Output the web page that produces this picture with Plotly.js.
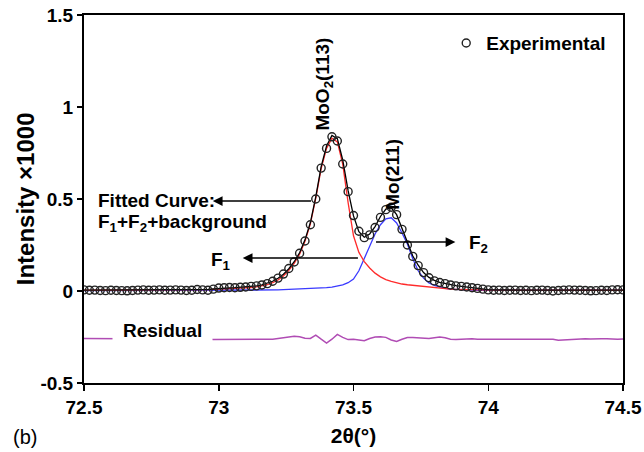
<!DOCTYPE html>
<html>
<head>
<meta charset="utf-8">
<script src="https://cdn.plot.ly/plotly-3.0.1.min.js"></script>
<style>
  html, body { margin: 0; padding: 0; background: #ffffff; }
  #chart { width: 644px; height: 452px; }
</style>
</head>
<body>
<div id="chart"></div>
<script>
// 2-theta scan positions (degrees)
const twoTheta = [
  72.50, 72.52, 72.54, 72.56, 72.58, 72.60, 72.62, 72.64, 72.66, 72.68,
  72.70, 72.72, 72.74, 72.76, 72.78, 72.80, 72.82, 72.84, 72.86, 72.88,
  72.90, 72.92, 72.94, 72.96, 72.98, 73.00, 73.02, 73.04, 73.06, 73.08,
  73.10, 73.12, 73.14, 73.16, 73.18, 73.20, 73.22, 73.24, 73.26, 73.28,
  73.30, 73.32, 73.34, 73.36, 73.38, 73.40, 73.42, 73.44, 73.46, 73.48,
  73.50, 73.52, 73.54, 73.56, 73.58, 73.60, 73.62, 73.64, 73.66, 73.68,
  73.70, 73.72, 73.74, 73.76, 73.78, 73.80, 73.82, 73.84, 73.86, 73.88,
  73.90, 73.92, 73.94, 73.96, 73.98, 74.00, 74.02, 74.04, 74.06, 74.08,
  74.10, 74.12, 74.14, 74.16, 74.18, 74.20, 74.22, 74.24, 74.26, 74.28,
  74.30, 74.32, 74.34, 74.36, 74.38, 74.40, 74.42, 74.44, 74.46, 74.48,
  74.50
];

// Measured intensity (x1000)
const experimental = [
  0.006, 0.004, 0.005, 0.003, 0.002, 0.004, 0.003, 0.002, 0.001, 0.003,
  0.005, 0.006, 0.004, 0.005, 0.006, 0.004, 0.005, 0.006, 0.005, 0.003,
  0.004, 0.008, 0.006, 0.004, 0.010, 0.016, 0.018, 0.019, 0.018, 0.020,
  0.022, 0.025, 0.028, 0.033, 0.040, 0.053, 0.070, 0.092, 0.122, 0.158,
  0.205, 0.272, 0.360, 0.500, 0.668, 0.775, 0.838, 0.815, 0.690, 0.540,
  0.410, 0.325, 0.290, 0.305, 0.345, 0.400, 0.442, 0.455, 0.415, 0.335,
  0.250, 0.188, 0.138, 0.100, 0.072, 0.055, 0.046, 0.040, 0.033, 0.028,
  0.025, 0.022, 0.018, 0.014, 0.010, 0.006, 0.004, 0.005, 0.003, 0.004,
  0.005, 0.003, 0.004, 0.002, 0.004, 0.005, 0.003, 0.000, 0.003, 0.005,
  0.006, 0.005, 0.004, 0.003, 0.001, 0.002, 0.004, 0.003, 0.006, 0.007,
  0.006
];

// Fitted curve: F1 + F2 + background
const fitted = [
  0.005, 0.005, 0.005, 0.005, 0.005, 0.005, 0.005, 0.005, 0.005, 0.005,
  0.005, 0.005, 0.005, 0.005, 0.005, 0.005, 0.005, 0.005, 0.005, 0.006,
  0.006, 0.007, 0.008, 0.009, 0.011, 0.014, 0.016, 0.017, 0.018, 0.020,
  0.022, 0.025, 0.028, 0.033, 0.041, 0.053, 0.069, 0.091, 0.121, 0.159,
  0.208, 0.278, 0.372, 0.512, 0.676, 0.788, 0.846, 0.828, 0.712, 0.545,
  0.408, 0.322, 0.292, 0.310, 0.350, 0.405, 0.445, 0.452, 0.415, 0.340,
  0.255, 0.190, 0.140, 0.100, 0.074, 0.058, 0.047, 0.040, 0.034, 0.029,
  0.025, 0.021, 0.017, 0.013, 0.010, 0.007, 0.006, 0.005, 0.005, 0.005,
  0.005, 0.005, 0.005, 0.005, 0.005, 0.005, 0.005, 0.005, 0.005, 0.005,
  0.005, 0.005, 0.005, 0.005, 0.005, 0.005, 0.005, 0.005, 0.005, 0.005,
  0.005
];

// F1 component, MoO2(113)
const f1 = [
  0.004, 0.004, 0.004, 0.004, 0.004, 0.004, 0.004, 0.004, 0.004, 0.004,
  0.004, 0.004, 0.004, 0.004, 0.004, 0.005, 0.005, 0.005, 0.005, 0.005,
  0.006, 0.006, 0.007, 0.008, 0.009, 0.010, 0.011, 0.012, 0.013, 0.015,
  0.017, 0.019, 0.022, 0.027, 0.034, 0.045, 0.060, 0.082, 0.112, 0.150,
  0.200, 0.270, 0.365, 0.505, 0.665, 0.775, 0.830, 0.810, 0.690, 0.480,
  0.300, 0.210, 0.160, 0.125, 0.097, 0.077, 0.062, 0.052, 0.044, 0.038,
  0.034, 0.031, 0.028, 0.025, 0.021, 0.017, 0.014, 0.012, 0.010, 0.009,
  0.008, 0.007, 0.007, 0.006, 0.006, 0.006, 0.005, 0.005, 0.005, 0.005,
  0.005, 0.005, 0.005, 0.005, 0.004, 0.004, 0.004, 0.004, 0.004, 0.004,
  0.004, 0.004, 0.004, 0.004, 0.004, 0.004, 0.004, 0.004, 0.004, 0.004,
  0.004
];

// F2 component, Mo(211)
const f2 = [
  0.002, 0.002, 0.002, 0.002, 0.002, 0.002, 0.002, 0.002, 0.002, 0.002,
  0.002, 0.002, 0.002, 0.002, 0.002, 0.002, 0.002, 0.002, 0.002, 0.002,
  0.002, 0.003, 0.003, 0.003, 0.003, 0.003, 0.003, 0.003, 0.003, 0.004,
  0.004, 0.004, 0.004, 0.005, 0.005, 0.006, 0.006, 0.007, 0.008, 0.009,
  0.010, 0.011, 0.012, 0.014, 0.016, 0.018, 0.021, 0.026, 0.033, 0.045,
  0.065, 0.110, 0.175, 0.245, 0.310, 0.360, 0.392, 0.398, 0.370, 0.315,
  0.255, 0.175, 0.110, 0.070, 0.044, 0.030, 0.020, 0.014, 0.010, 0.008,
  0.006, 0.005, 0.005, 0.004, 0.004, 0.004, 0.004, 0.004, 0.004, 0.004,
  0.004, 0.004, 0.004, 0.004, 0.004, 0.004, 0.004, 0.004, 0.004, 0.004,
  0.004, 0.004, 0.004, 0.004, 0.004, 0.004, 0.004, 0.004, 0.004, 0.004,
  0.004
];

// Residual, shown offset below the pattern
const residual = [
  -0.258, -0.258, -0.262, -0.262, -0.262, -0.262, -0.262, -0.262, -0.262, -0.262,
  -0.262, -0.262, -0.262, -0.262, -0.262, -0.262, -0.262, -0.262, -0.262, -0.262,
  -0.262, -0.262, -0.262, -0.262, -0.263, -0.263, -0.262, -0.261, -0.260, -0.260,
  -0.261, -0.262, -0.262, -0.264, -0.264, -0.262, -0.258, -0.254, -0.252, -0.246,
  -0.249, -0.257, -0.258, -0.240, -0.262, -0.283, -0.262, -0.236, -0.252, -0.264,
  -0.262, -0.266, -0.270, -0.258, -0.250, -0.249, -0.252, -0.266, -0.274, -0.262,
  -0.253, -0.253, -0.256, -0.258, -0.258, -0.254, -0.250, -0.254, -0.262, -0.264,
  -0.262, -0.258, -0.260, -0.262, -0.262, -0.262, -0.262, -0.262, -0.262, -0.262,
  -0.262, -0.262, -0.262, -0.262, -0.262, -0.262, -0.262, -0.262, -0.268, -0.266,
  -0.261, -0.262, -0.260, -0.259, -0.261, -0.262, -0.260, -0.259, -0.262, -0.262,
  -0.261
];

const xTicks = [72.5, 73, 73.5, 74, 74.5];
const xTickLabels = ['72.5', '73', '73.5', '74', '74.5'];
const yTicks = [-0.5, 0, 0.5, 1, 1.5];
const yTickLabels = ['-0.5', '0', '0.5', '1', '1.5'];

const FONT = 'Liberation Sans, Arial, Helvetica, sans-serif';

const traces = [
  {
    x: twoTheta, y: f2, mode: 'lines', name: 'F2', showlegend: false,
    line: { color: '#3a3aff', width: 1.3 }
  },
  {
    x: twoTheta, y: f1, mode: 'lines', name: 'F1', showlegend: false,
    line: { color: '#ff2a2a', width: 1.3 }
  },
  {
    x: twoTheta, y: fitted, mode: 'lines', name: 'Fitted', showlegend: false,
    line: { color: '#000000', width: 1.3 }
  },
  {
    x: twoTheta, y: residual, mode: 'lines', name: 'Residual', showlegend: false,
    line: { color: '#b04cb4', width: 1.5 }
  },
  {
    x: twoTheta, y: experimental, mode: 'markers', name: 'Experimental',
    marker: { symbol: 'circle-open', size: 8, color: '#222222', line: { width: 1.4 } }
  }
];

const labelFont = { family: FONT, size: 19, color: '#000000', weight: 'bold' };

const layout = {
  width: 644,
  height: 452,
  margin: { l: 84, r: 21, t: 15, b: 69 },
  paper_bgcolor: '#ffffff',
  plot_bgcolor: '#ffffff',
  showlegend: true,
  legend: {
    x: 0.672, y: 0.975, xanchor: 'left', yanchor: 'top',
    bgcolor: 'rgba(0,0,0,0)', borderwidth: 0,
    font: { family: FONT, size: 19, color: '#000000', weight: 'bold' }
  },
  xaxis: {
    range: [72.5, 74.5],
    tickvals: xTicks, ticktext: xTickLabels,
    ticks: 'outside', ticklen: 6, tickwidth: 1.5, tickcolor: '#000000',
    showline: true, linecolor: '#000000', linewidth: 2, mirror: true,
    showgrid: false, zeroline: false,
    tickfont: { family: FONT, size: 19, color: '#000000', weight: 'bold' },
    title: { text: '2θ(°)', standoff: 12,
             font: { family: FONT, size: 21, color: '#000000', weight: 'bold' } }
  },
  yaxis: {
    range: [-0.5, 1.5],
    tickvals: yTicks, ticktext: yTickLabels,
    ticks: 'outside', ticklen: 5, tickwidth: 1.5, tickcolor: '#000000',
    showline: true, linecolor: '#000000', linewidth: 2, mirror: true,
    showgrid: false, zeroline: false,
    tickfont: { family: FONT, size: 19, color: '#000000', weight: 'bold' }
  },
  annotations: [
    // y-axis title, set beside the tick labels
    { xref: 'paper', yref: 'paper', x: -0.109, y: 0.5, xanchor: 'center', yanchor: 'middle',
      textangle: -90, text: 'Intensity ×1000', showarrow: false,
      font: { family: FONT, size: 24, color: '#000000', weight: 'bold' } },
    { x: 73.389, y: 1.125, text: 'MoO<sub>2</sub>(113)', textangle: -90,
      showarrow: false, font: labelFont },
    { x: 73.645, y: 0.635, text: 'Mo(211)', textangle: -90,
      showarrow: false, font: labelFont },
    { x: 72.545, y: 0.49, xanchor: 'left', text: 'Fitted Curve:',
      showarrow: false, font: labelFont },
    { x: 72.545, y: 0.37, xanchor: 'left', text: 'F<sub>1</sub>+F<sub>2</sub>+background',
      showarrow: false, font: labelFont },
    { x: 72.962, y: 0.165, xanchor: 'left', text: 'F<sub>1</sub>',
      showarrow: false, font: labelFont },
    { x: 73.922, y: 0.255, xanchor: 'left', text: 'F<sub>2</sub>',
      showarrow: false, font: labelFont },
    { x: 72.793, y: -0.215, text: 'Residual', showarrow: false,
      bgcolor: '#ffffff', borderpad: 10, font: labelFont },
    // arrows pointing from the curves toward their labels
    { x: 72.978, y: 0.489, ax: 73.348, ay: 0.489, axref: 'x', ayref: 'y',
      text: '', showarrow: true, arrowhead: 2, arrowsize: 1.3, arrowwidth: 1.5, arrowcolor: '#000000' },
    { x: 73.089, y: 0.179, ax: 73.522, ay: 0.179, axref: 'x', ayref: 'y',
      text: '', showarrow: true, arrowhead: 2, arrowsize: 1.3, arrowwidth: 1.5, arrowcolor: '#000000' },
    { x: 73.878, y: 0.266, ax: 73.578, ay: 0.266, axref: 'x', ayref: 'y',
      text: '', showarrow: true, arrowhead: 2, arrowsize: 1.3, arrowwidth: 1.5, arrowcolor: '#000000' },
    { xref: 'paper', yref: 'paper', x: -0.136, y: -0.147, xanchor: 'left', yanchor: 'middle',
      text: '(b)', showarrow: false,
      font: { family: FONT, size: 20, color: '#000000' } }
  ]
};

Plotly.newPlot('chart', traces, layout, { displayModeBar: false, staticPlot: true });
</script>
</body>
</html>
